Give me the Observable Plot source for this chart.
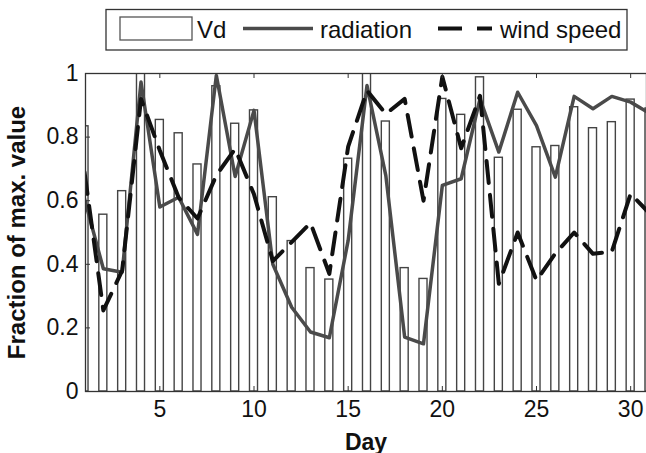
<!DOCTYPE html>
<html><head><meta charset="utf-8">
<script src="https://cdn.jsdelivr.net/npm/d3@7"></script>
<script src="https://cdn.jsdelivr.net/npm/@observablehq/plot@0.6"></script>
<style>
body{margin:0;background:#fff;font-family:"Liberation Sans",Arial,sans-serif;}
#wrap{position:relative;width:646px;height:453px;overflow:hidden;}
#legend{position:absolute;left:0;top:0;}
g[aria-label="y-axis label"], g[aria-label="x-axis label"]{font-weight:bold;}
g[aria-label="y-axis label"]{font-size:24px;}
g[aria-label="x-axis label"]{font-size:23px;}
</style></head><body>
<div id="wrap"><div id="chart"></div>
<svg id="legend" width="646" height="60" font-family="Liberation Sans, Arial, sans-serif">
  <rect x="106" y="9.5" width="521" height="40.5" fill="#fff" stroke="#333" stroke-width="1.3"/>
  <rect x="120" y="17" width="72" height="23" fill="#fff" stroke="#555" stroke-width="1.3"/>
  <text x="197" y="37.5" font-size="24" fill="#111">Vd</text>
  <line x1="243" x2="313" y1="28.5" y2="28.5" stroke="#4a4a4a" stroke-width="3.5"/>
  <text x="320" y="37.5" font-size="24" fill="#111">radiation</text>
  <line x1="438" x2="492" y1="28.5" y2="28.5" stroke="#111" stroke-width="4" stroke-dasharray="24,15"/>
  <text x="500" y="37.5" font-size="24" fill="#111">wind speed</text>
</svg>
</div>
<script>
const days = [1,2,3,4,5,6,7,8,9,10,11,12,13,14,15,16,17,18,19,20,21,22,23,24,25,26,27,28,29,30,31];
const vd = [0.834,0.556,0.63,1.0,0.854,0.812,0.714,0.96,0.842,0.884,0.611,0.473,0.388,0.352,0.732,1.0,0.849,0.388,0.354,0.92,0.87,0.988,0.735,0.886,0.768,0.772,0.894,0.828,0.847,0.918,0.89];
const radiation = [0.606,0.386,0.375,0.973,0.58,0.611,0.494,0.994,0.676,0.884,0.40,0.265,0.187,0.169,0.475,0.962,0.679,0.171,0.15,0.648,0.669,0.92,0.753,0.941,0.836,0.674,0.928,0.889,0.928,0.91,0.875];
const windSpeed = [0.69,0.255,0.38,0.92,0.758,0.61,0.544,0.68,0.763,0.62,0.41,0.47,0.53,0.37,0.77,0.946,0.873,0.92,0.60,0.99,0.765,0.93,0.339,0.50,0.349,0.434,0.50,0.433,0.44,0.622,0.56];
const xTicks = [5,10,15,20,25,30];
const yTicks = [0,0.2,0.4,0.6,0.8,1];

const data = days.map((d,i)=>({day:d, vd:vd[i], rad:radiation[i], wind:windSpeed[i]}));

const W = 646, H = 453, mL = 85, mR = 0, mT = 73, mB = 62;
const plotH = H - mT - mB, plotW = W - mL - mR;

const chart = Plot.plot({
  width: W, height: H,
  marginLeft: mL, marginRight: mR, marginTop: mT, marginBottom: mB,
  style: {fontFamily: "Liberation Sans, Arial, sans-serif", fontSize: "23px", background: "#fff", color: "#111"},
  x: {domain: [1, 31], range: [84, 649]},
  y: {domain: [0, 1]},
  marks: [
    Plot.rectY(data, {x1: d => d.day - 0.5, x2: d => d.day + 0.5, y: "vd", insetLeft: 5.4, insetRight: 5.4,
      fill: "#fff", stroke: "#444", strokeWidth: 1.4, clip: true}),
    Plot.line(data, {x: "day", y: "rad", stroke: "#4a4a4a", strokeWidth: 3.5, clip: true}),
    Plot.line(data, {x: "day", y: "wind", stroke: "#111", strokeWidth: 4, strokeDasharray: "22,12", clip: true}),
    Plot.tickY(yTicks, {y: d => d, insetRight: plotW - 5, stroke: "#333"}),
    Plot.tickX(xTicks, {x: d => d, insetTop: plotH - 5, stroke: "#333"}),
    Plot.tickX(xTicks, {x: d => d, insetBottom: plotH - 5, stroke: "#333"}),
    Plot.frame({stroke: "#333", strokeWidth: 1.3}),
    Plot.axisY(yTicks, {tickSize: 0, tickPadding: 7, tickFormat: d => String(d),
      label: "Fraction of max. value", labelArrow: "none", labelAnchor: "center", labelOffset: 78}),
    Plot.axisX(xTicks, {tickSize: 0, tickPadding: 9, tickFormat: d => String(d),
      label: "Day", labelArrow: "none", labelAnchor: "center", labelOffset: 58})
  ]
});
document.getElementById("chart").appendChild(chart);
</script>
</body></html>
